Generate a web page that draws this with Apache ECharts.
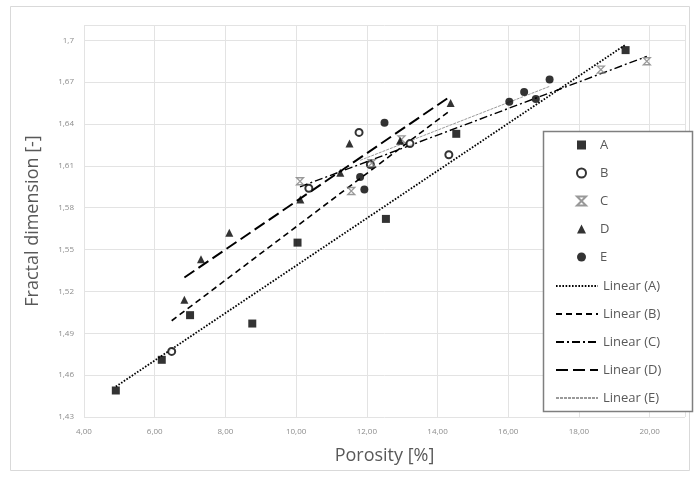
<!DOCTYPE html>
<html>
<head>
<meta charset="utf-8">
<script src="https://cdn.jsdelivr.net/npm/echarts@6/dist/echarts.min.js"></script>
<style>
html,body{margin:0;padding:0;background:#fff;}
#chart{width:695px;height:477px;}
</style>
</head>
<body>
<div id="chart"></div>
<script>
// Measured data (porosity %, fractal dimension)
const seriesA = [[4.90,1.449],[6.20,1.471],[7.00,1.503],[8.76,1.497],[10.04,1.555],[12.54,1.572],[14.53,1.633],[19.32,1.693]];
const seriesB = [[6.48,1.477],[10.36,1.594],[11.78,1.634],[12.10,1.611],[13.22,1.626],[14.32,1.618]];
const seriesC = [[10.11,1.599],[11.56,1.592],[12.14,1.612],[12.98,1.629],[18.62,1.679],[19.92,1.685]];
const seriesD = [[6.84,1.514],[7.31,1.543],[8.11,1.562],[10.12,1.586],[11.25,1.605],[11.51,1.626],[12.94,1.628],[14.37,1.655]];
const seriesE = [[11.81,1.602],[11.93,1.593],[12.50,1.641],[16.03,1.656],[16.45,1.663],[16.78,1.658],[17.17,1.672]];

// Trendline endpoints
const trendA = [[4.90,1.4518],[19.32,1.6969]];
const trendB = [[6.48,1.499],[14.32,1.649]];
const trendC = [[10.11,1.595],[19.92,1.6885]];
const trendD = [[6.84,1.530],[14.37,1.660]];
const trendE = [[11.81,1.614],[17.17,1.667]];

const seriesNames = ['A','B','C','D','E'];
const trendNames = ['Linear (A)','Linear (B)','Linear (C)','Linear (D)','Linear (E)'];

// Tick labels
const xTicks = [4,6,8,10,12,14,16,18,20];
const xTickLabels = ['4,00','6,00','8,00','10,00','12,00','14,00','16,00','18,00','20,00'];
const yTicks = [1.43,1.46,1.49,1.52,1.55,1.58,1.61,1.64,1.67,1.7];
const yTickLabels = ['1,43','1,46','1,49','1,52','1,55','1,58','1,61','1,64','1,67','1,7'];

function lookup(ticks, labels, v) {
  for (let i = 0; i < ticks.length; i++) if (Math.abs(ticks[i]-v) < 1e-6) return labels[i];
  return '';
}

const FONT = '"Open Sans", "Liberation Sans", sans-serif';
const starPath = 'path://M0,0L10,0L0,10L10,10Z';
const legendText = {fontFamily: FONT, fontSize: 13, color: '#595959', lineHeight: 16};

const chart = echarts.init(document.getElementById('chart'), null, {renderer:'canvas'});
const option = {
  animation: false,
  backgroundColor: '#fff',
  graphic: [{
    type: 'rect', shape: {x: 10.5, y: 6.5, width: 679, height: 464},
    style: {fill: 'none', stroke: '#d9d9d9', lineWidth: 1}, silent: true, z: -10
  }, {
    type: 'rect', shape: {x: 543.5, y: 131.5, width: 149, height: 280},
    style: {fill: '#fff', stroke: '#7f7f7f', lineWidth: 1.5}, silent: true, z: 50
  }],
  grid: {left: 84, right: 10, top: 25, bottom: 60, containLabel: false},
  xAxis: {
    type: 'value', min: 4, max: 21, interval: 2,
    name: 'Porosity [%]', nameLocation: 'middle', nameGap: 30,
    nameTextStyle: {fontFamily: FONT, fontSize: 18, color: '#595959'},
    axisLine: {show: false}, axisTick: {show: false},
    axisLabel: {fontFamily: FONT, fontSize: 8, color: '#8c8c8c', margin: 11,
      showMaxLabel: false,
      formatter: v => lookup(xTicks, xTickLabels, v)},
    splitLine: {show: true, lineStyle: {color: '#e3e3e3', width: 1}}
  },
  yAxis: {
    type: 'value', min: 1.43, max: 1.711, interval: 0.03,
    name: 'Fractal dimension [-]', nameLocation: 'middle', nameGap: 42,
    nameTextStyle: {fontFamily: FONT, fontSize: 18, color: '#595959'},
    axisLine: {show: false}, axisTick: {show: false},
    axisLabel: {fontFamily: FONT, fontSize: 8, color: '#8c8c8c', margin: 10,
      showMaxLabel: false,
      formatter: v => lookup(yTicks, yTickLabels, v)},
    splitLine: {show: true, lineStyle: {color: '#e3e3e3', width: 1}}
  },
  legend: [{
    orient: 'vertical', left: 576, top: 137, padding: 0, z: 60,
    itemWidth: 9, itemHeight: 9, itemGap: 12,
    textStyle: Object.assign({padding: [0, 0, 0, 9]}, legendText),
    data: seriesNames
  }, {
    orient: 'vertical', left: 555, top: 278, padding: 0, z: 60,
    itemWidth: 42, itemHeight: 7, itemGap: 12,
    textStyle: legendText,
    data: trendNames.map(n => ({name: n, itemStyle: {color: 'rgba(0,0,0,0)', borderWidth: 0, opacity: 0}}))
  }],
  series: [
    {name: 'A', type: 'scatter', data: seriesA, symbol: 'rect', symbolSize: 8, itemStyle: {color: '#000'}, z: 5},
    {name: 'B', type: 'scatter', data: seriesB, symbol: 'emptyCircle', symbolSize: 7, itemStyle: {color: '#000', borderColor: '#000', borderWidth: 1.6}, z: 5},
    {name: 'C', type: 'scatter', data: seriesC, symbol: starPath, symbolSize: 7, itemStyle: {color: 'rgba(0,0,0,0)', borderColor: '#7f7f7f', borderWidth: 1.3}, z: 5},
    {name: 'D', type: 'scatter', data: seriesD, symbol: 'triangle', symbolSize: 8, itemStyle: {color: '#000'}, z: 5},
    {name: 'E', type: 'scatter', data: seriesE, symbol: 'circle', symbolSize: 8, itemStyle: {color: '#000'}, z: 5},
    {name: 'Linear (A)', type: 'line', data: trendA, symbol: 'none', lineStyle: {color: '#000', width: 1.8, type: [1.6, 1.6]}, z: 3},
    {name: 'Linear (B)', type: 'line', data: trendB, symbol: 'none', lineStyle: {color: '#000', width: 1.6, type: [6, 4]}, z: 3},
    {name: 'Linear (C)', type: 'line', data: trendC, symbol: 'none', lineStyle: {color: '#000', width: 1.4, type: [8, 3, 2, 3]}, z: 3},
    {name: 'Linear (D)', type: 'line', data: trendD, symbol: 'none', lineStyle: {color: '#000', width: 2, type: [12, 5]}, z: 3},
    {name: 'Linear (E)', type: 'line', data: trendE, symbol: 'none', lineStyle: {color: '#9a9a9a', width: 1, type: [3, 1]}, z: 3}
  ]
};
chart.setOption(option);
</script>
</body>
</html>
